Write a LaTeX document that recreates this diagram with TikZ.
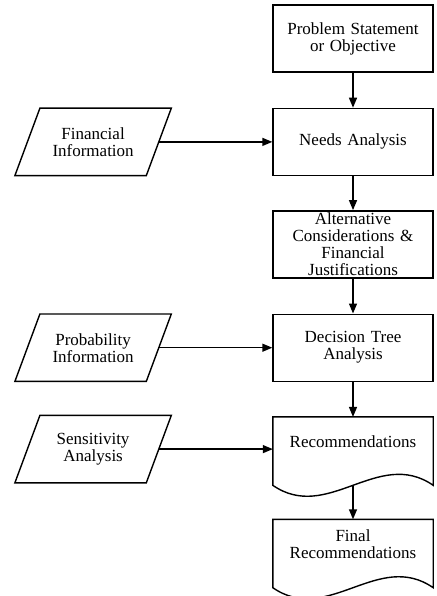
\documentclass[tikz,border=0pt]{standalone}
\usepackage{fontspec}
\setmainfont{Liberation Serif}[WordSpace=1.8]
\usetikzlibrary{positioning,arrows.meta}

% outline of a document symbol hung below a node
\newcommand{\docoutline}[1]{\draw[line width=1.4pt] (#1.south west) -- ++(0,-18pt)
  .. controls +(55pt,-38pt) and +(-55pt,38pt) .. ([yshift=-18pt]#1.south east)
  -- (#1.north east) -- (#1.north west) -- cycle;}
% slanted input/output outline round a node
\newcommand{\dataoutline}[1]{\draw[line width=1.4pt] ([xshift=-12.5pt]#1.south west)
  -- ([xshift=12.5pt]#1.north west) -- ([xshift=12.5pt]#1.north east)
  -- ([xshift=-12.5pt]#1.south east) -- cycle;}

\begin{document}
\begin{tikzpicture}[every node/.style={font=\fontsize{17}{17}\selectfont},box/.style={draw,line width=1.4pt,minimum width=160pt,minimum height=67pt,text width=152pt,align=center,inner sep=0pt},docbox/.style={minimum width=160pt,minimum height=50pt,text width=152pt,align=center,inner sep=0pt},data/.style={minimum width=131pt,minimum height=67pt,align=center,inner sep=0pt},arr/.style={-{Triangle[length=10pt,width=8pt]},line width=1.4pt},node distance=35pt]
\useasboundingbox[fill=white] (0,0) rectangle (436pt,-596pt);
\node[box] (goal) at (353pt,-38.5pt) {Problem Statement\\or Objective};
\node[box,below=of goal] (needs) {Needs Analysis};
\node[box,below=34pt of needs] (alt) {Alternative\\Considerations \&\\Financial\\Justifications};
\node[box,below=of alt] (tree) {Decision Tree\\Analysis};
\node[docbox,below=of tree] (rec) {Recommendations};
\node[docbox,below=52pt of rec] (final) {Final\\Recommendations};
\docoutline{rec}\docoutline{final}
\node[data,left=113.5pt of needs] (fin) {Financial\\Information};
\node[data,left=113.5pt of tree] (probinfo) {Probability\\Information};
\node[data,below=34pt of probinfo] (sens) {Sensitivity\\Analysis};
\dataoutline{fin}\dataoutline{probinfo}\dataoutline{sens}
\draw[arr] (goal)--(needs);\draw[arr] (needs)--(alt);
\draw[arr] (alt)--(tree);\draw[arr] (tree)--(rec);
\draw[arr] ([yshift=-18pt]rec.south)--(final);
\draw[arr] (fin)--(needs);\draw[arr] (probinfo)--(tree);
\draw[arr] (sens.east)--(sens.east -| rec.west);
\end{tikzpicture}
\end{document}
